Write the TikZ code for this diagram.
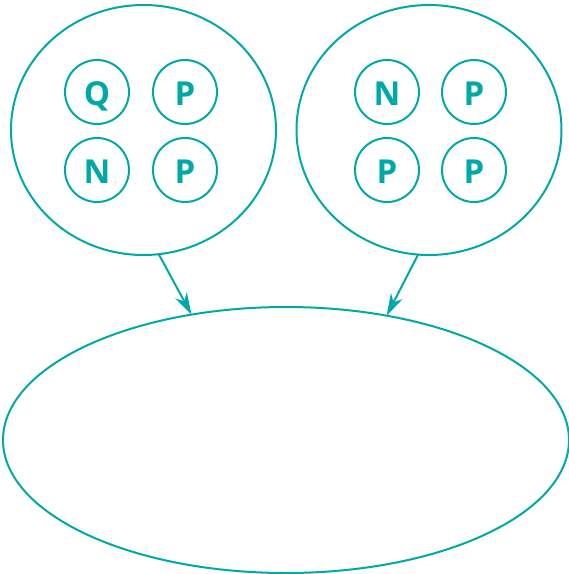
\documentclass[tikz,border=0pt]{standalone}
\usepackage{fontspec}
\newfontfamily\labelfont{Open Sans}
\usetikzlibrary{arrows.meta,shapes.geometric}
\definecolor{tealline}{RGB}{0,168,168}

\begin{document}
\begin{tikzpicture}[x=1pt,y=-1pt,line width=2pt,color=tealline]
      \useasboundingbox (0,0) rectangle (569,574);

      \begin{scope}[every node/.style={ellipse,draw,inner sep=0pt,outer sep=0pt}]
        \node[minimum width=265pt,minimum height=250pt] (left)  at (143.5,130) {};
        \node[minimum width=265pt,minimum height=250pt] (right) at (429,130)   {};
        \node[minimum width=566pt,minimum height=266pt] (merge) at (286,440)   {};
      \end{scope}

      \begin{scope}[every node/.style={circle,draw,minimum size=64pt,inner sep=0pt,
          text height=26pt,text depth=0pt,
          font=\fontsize{33}{40}\labelfont\bfseries}]
        \node (q1) at (97,92)  {Q};
        \node (p1) at (185,92) {P};
        \node (n1) at (97,170) {N};
        \node (p2) at (185,170) {P};
        \node (n2) at (387,92) {N};
        \node (p3) at (474,92) {P};
        \node (p4) at (387,170) {P};
        \node (p5) at (474,170) {P};
      \end{scope}

      \begin{scope}[every path/.style={-{Stealth[length=22pt,width=13pt,inset=7pt]}}]
        \draw (left.-83)  -- (merge.127);
        \draw (right.-95) -- (merge.51);
      \end{scope}

    \end{tikzpicture}
\end{document}
